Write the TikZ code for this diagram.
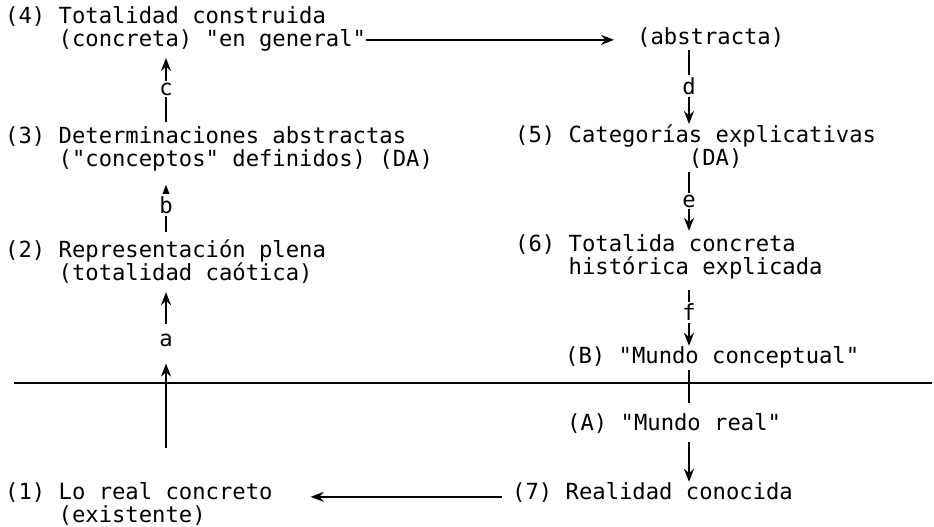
\documentclass[tikz,border=0pt]{standalone}
\usepackage{fontspec}
\newfontfamily\maquina{DejaVu Sans Mono}
\usepackage{tikz}
\usetikzlibrary{arrows.meta, positioning}
\tikzset{>={Stealth[length=13pt,width=10pt]}}
\tikzset{texto/.style={anchor=base west, inner sep=0pt, align=left,
    font=\maquina\fontsize{22.2}{23}\selectfont},
  letra/.style={fill=white, inner sep=2pt, font=\maquina\fontsize{22.2}{23}\selectfont},
  flecha/.style={->, line width=1.7pt},
  raya/.style={line width=1.7pt}}
\newcommand{\sangria}{\hphantom{(0)\ }}

\begin{document}
\begin{tikzpicture}[x=1pt,y=-1pt]
\useasboundingbox (0,0) rectangle (934,527);
\coordinate (colL) at (166,0);
\coordinate (colR) at (689,0);
% izquierda (base = ultima linea)
\node [texto] (n4) at (5,47) {(4) Totalidad construida\\\sangria(concreta) "en general"};
\node [texto] (n3) at (5,166) {(3) Determinaciones abstractas\\\sangria("conceptos" definidos) (DA)};
\node [texto] (n2) at (5,280) {(2) Representación plena\\\sangria(totalidad caótica)};
\node [texto] (n1) at (5,522) {(1) Lo real concreto\\\sangria(existente)};
\node [letra] (la) at (166,340) {a};
% derecha
\node [texto] (nAbs) at (637,45) {(abstracta)};
\node [texto] (n5) at (515,165) {(5) Categorías explicativas\\\hphantom{(5) Categoría}(DA)};
\node [texto] (n6) at (515,274) {(6) Totalida concreta\\\sangria histórica explicada};
\node [texto] (nB) at (565,363) {(B) "Mundo conceptual"};
\node [texto] (nA) at (567,430) {(A) "Mundo real"};
\node [texto] (n7) at (512,499) {(7) Realidad conocida};
% linea divisoria
\draw [raya] (14,383)--(932,383);
% flechas
\draw [flecha,shorten <=34pt,shorten >=15pt] (n1.north -| colL)--(la);
\draw [flecha,shorten <=7pt,shorten >=9pt] (la)--(n2.south -| colL);
\draw [flecha,shorten <=7pt,shorten >=14pt] (n2.north -| colL)--(n3.south -| colL) node [letra,midway] {b};
\draw [flecha,shorten <=4pt,shorten >=6pt] (n3.north -| colL)--(n4.south -| colL) node [letra,midway] {c};
\draw [flecha,shorten >=23pt] ([yshift=3pt]n4.east |- nAbs.mid)--([yshift=3pt]nAbs.mid west);
\draw [flecha,shorten <=2pt] (nAbs.south -| colR)--(n5.north -| colR) node [letra,midway] {d};
\draw [flecha,shorten <=4pt,shorten >=3pt] (n5.south -| colR)--(n6.north -| colR) node [letra,midway] {e};
\draw [flecha,shorten <=11pt] (n6.south -| colR)--(nB.north -| colR) node [letra,midway] {f};
\draw [raya,shorten <=2pt,shorten >=10pt] (nB.south -| colR)--(nA.north -| colR);
\draw [flecha,shorten <=9pt] (nA.south -| colR)--(n7.north -| colR);
\draw [flecha,shorten <=10pt,shorten >=38pt] (n7.mid west)--(n7.mid west -| n1.east);
\end{tikzpicture}
\end{document}
